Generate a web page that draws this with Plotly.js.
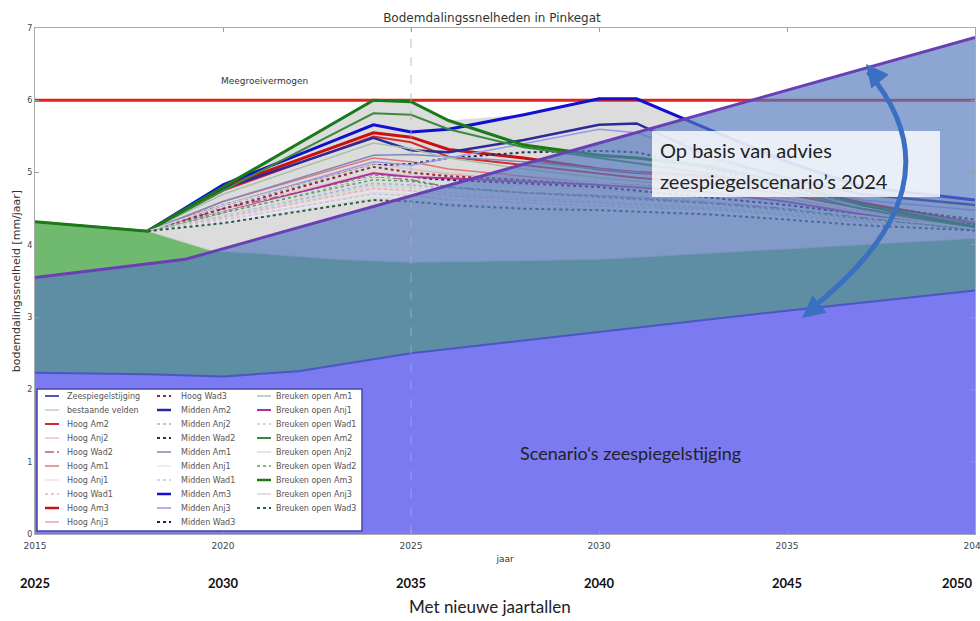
<!DOCTYPE html>
<html><head><meta charset="utf-8">
<script src="https://cdn.plot.ly/plotly-3.0.1.min.js"></script>
<style>html,body{margin:0;padding:0;background:#fff}#chart{width:980px;height:621px}</style>
</head><body><div id="chart"></div>
<script>
// ---------------- DATA ----------------
const YEARS = [2015, 2018, 2020, 2024, 2025, 2026, 2028, 2030, 2031, 2033, 2035, 2037, 2040];
const X_TICKS = [2015, 2020, 2025, 2030, 2035, 2040];
const NEW_YEAR_LABELS = ['2025', '2030', '2035', '2040', '2045', '2050'];
const Y_TICKS = [0, 1, 2, 3, 4, 5, 6, 7];
const NOW_YEAR = 2025;

const SEA_YEARS = [2015, 2018, 2020, 2022, 2025, 2030, 2035, 2040];
const SEA_RATE  = [2.23, 2.21, 2.18, 2.25, 2.50, 2.80, 3.09, 3.37];
const EXIST_YEARS = [2015, 2018, 2019.7, 2021, 2023, 2025, 2030, 2035, 2040];
const EXIST_RATE  = [4.32, 4.19, 3.92, 3.88, 3.80, 3.76, 3.80, 3.95, 4.09];
const ADVICE_YEARS = [2015, 2019, 2040];
const ADVICE_RATE  = [3.55, 3.80, 6.87];
const CAPACITY_YEARS = [2015, 2040];
const CAPACITY_RATE  = [6.0, 6.0];

const hoogAm2    = [null, 4.19, 4.75, 5.50, 5.42, 5.22, 5.10, 4.98, 4.93, 4.85, 4.70, 4.50, 4.25];
const hoogAnj2   = [null, 4.19, 4.50, 5.00, 4.97, 4.90, 4.82, 4.76, 4.73, 4.66, 4.55, 4.40, 4.20];
const hoogWad2   = [null, 4.19, 4.50, 4.95, 4.90, 4.80, 4.72, 4.68, 4.65, 4.58, 4.50, 4.38, 4.20];
const hoogAm1    = [null, 4.19, 4.60, 5.20, 5.15, 5.05, 4.95, 4.85, 4.82, 4.75, 4.62, 4.45, 4.22];
const hoogAnj1   = [null, 4.19, 4.35, 4.75, 4.72, 4.66, 4.60, 4.55, 4.53, 4.47, 4.40, 4.30, 4.17];
const hoogWad1   = [null, 4.19, 4.38, 4.78, 4.75, 4.68, 4.62, 4.58, 4.55, 4.50, 4.42, 4.32, 4.18];
const hoogAm3    = [null, 4.19, 4.80, 5.55, 5.49, 5.32, 5.20, 5.05, 5.00, 4.95, 4.82, 4.58, 4.30];
const hoogAnj3   = [null, 4.19, 4.55, 5.12, 5.05, 4.98, 4.90, 4.82, 4.78, 4.70, 4.58, 4.42, 4.20];
const hoogWad3   = [null, 4.19, 4.50, 5.08, 5.00, 4.95, 4.90, 4.85, 4.82, 4.75, 4.62, 4.45, 4.22];
const middenAm2  = [null, 4.19, 4.78, 5.48, 5.31, 5.28, 5.45, 5.66, 5.68, 5.20, 4.92, 4.70, 4.55];
const middenAnj2 = [null, 4.19, 4.40, 4.85, 4.83, 4.78, 4.72, 4.68, 4.66, 4.60, 4.52, 4.40, 4.25];
const middenWad2 = [null, 4.19, 4.55, 5.10, 5.12, 5.20, 5.28, 5.30, 5.28, 5.05, 4.80, 4.55, 4.35];
const middenAm1  = [null, 4.19, 4.60, 5.24, 5.25, 5.22, 5.15, 5.05, 5.00, 4.92, 4.75, 4.55, 4.30];
const middenAnj1 = [null, 4.19, 4.32, 4.68, 4.66, 4.60, 4.56, 4.52, 4.50, 4.45, 4.38, 4.30, 4.18];
const middenWad1 = [null, 4.19, 4.35, 4.70, 4.68, 4.62, 4.58, 4.55, 4.53, 4.48, 4.40, 4.30, 4.18];
const middenAm3  = [null, 4.19, 4.83, 5.66, 5.56, 5.60, 5.80, 6.02, 6.02, 5.58, 5.15, 4.80, 4.62];
const middenAnj3 = [null, 4.19, 4.55, 5.15, 5.10, 5.20, 5.40, 5.60, 5.55, 5.20, 4.88, 4.62, 4.48];
const middenWad3 = [null, 4.19, 4.45, 4.95, 4.92, 4.90, 4.85, 4.80, 4.75, 4.65, 4.55, 4.42, 4.28];
const breukAm1   = [null, 4.19, 4.70, 5.41, 5.33, 5.20, 5.05, 4.93, 4.88, 4.80, 4.65, 4.45, 4.22];
const breukAnj1  = [null, 4.19, 4.45, 4.99, 4.94, 4.92, 4.88, 4.83, 4.80, 4.72, 4.60, 4.42, 4.20];
const breukWad1  = [null, 4.19, 4.40, 4.82, 4.80, 4.72, 4.65, 4.60, 4.58, 4.52, 4.45, 4.35, 4.20];
const breukAm2   = [4.32, 4.19, 4.75, 5.82, 5.80, 5.60, 5.35, 5.20, 5.13, 4.98, 4.75, 4.50, 4.22];
const breukAnj2  = [null, 4.19, 4.45, 4.95, 4.92, 4.86, 4.78, 4.72, 4.70, 4.62, 4.52, 4.40, 4.22];
const breukWad2  = [null, 4.19, 4.45, 4.90, 4.88, 4.80, 4.72, 4.66, 4.63, 4.57, 4.48, 4.36, 4.22];
const breukAm3   = [4.32, 4.19, 4.80, 6.00, 5.98, 5.72, 5.38, 5.24, 5.20, 5.08, 4.85, 4.55, 4.25];
const breukAnj3  = [null, 4.19, 4.55, 5.10, 5.05, 5.00, 4.92, 4.85, 4.82, 4.75, 4.62, 4.45, 4.22];
const breukWad3  = [null, 4.19, 4.30, 4.62, 4.60, 4.55, 4.50, 4.48, 4.46, 4.42, 4.35, 4.27, 4.20];

const SERIES_NAMES = ['Hoog Am2','Hoog Anj2','Hoog Wad2','Hoog Am1','Hoog Anj1','Hoog Wad1','Hoog Am3','Hoog Anj3',
  'Hoog Wad3','Midden Am2','Midden Anj2','Midden Wad2','Midden Am1','Midden Anj1','Midden Wad1','Midden Am3',
  'Midden Anj3','Midden Wad3','Breuken open Am1','Breuken open Anj1','Breuken open Wad1','Breuken open Am2',
  'Breuken open Anj2','Breuken open Wad2','Breuken open Am3','Breuken open Anj3','Breuken open Wad3'];
const SERIES = [hoogAm2, hoogAnj2, hoogWad2, hoogAm1, hoogAnj1, hoogWad1, hoogAm3, hoogAnj3, hoogWad3,
  middenAm2, middenAnj2, middenWad2, middenAm1, middenAnj1, middenWad1, middenAm3, middenAnj3, middenWad3,
  breukAm1, breukAnj1, breukWad1, breukAm2, breukAnj2, breukWad2, breukAm3, breukAnj3, breukWad3];

// ---------------- STYLES ----------------
const SERIES_COLORS = ['#d42a2a','#e6c4cc','#b05a9a','#e07878','#f0e2e2','#f0a8c0','#cc1010','#e8a8a8','#8a2a3a',
  '#2a2a9a','#a8a8ee','#2a2a5a','#8088b8','#e6e6f6','#c4c4e4','#1010d0','#9898e8','#1a1a6a',
  '#a8c0a8','#b0309a','#b8d8c8','#3a8a3a','#d0e4d0','#5aa05a','#1a7a1a','#d4d4d4','#2a5a3a'];
const SERIES_WIDTHS = [2,1.5,1.5,1.5,1.5,1.5,3,1.5,2, 2.5,1.5,2,1.5,1.5,1.5,3,1.5,2, 1.5,2,1.5,2,1.5,1.5,3,1.5,2];
const SERIES_DASH = ['solid','solid','dashdot','solid','solid','dot','solid','solid','dot',
  'solid','dot','dot','solid','solid','dot','solid','solid','dot',
  'solid','solid','dot','solid','solid','dot','solid','solid','dot'];
const SEA_STYLE = {color:'#4b56c6', width:2, dash:'solid'};
const EXIST_STYLE = {color:'#c8c8c8', width:1.5, dash:'solid'};

const px = v => (v - 35) / 940;
const py = v => (534 - v) / 506;

// ---------------- TRACES ----------------
const traces = [];
traces.push({x: SEA_YEARS, y: SEA_RATE, mode: 'lines', line: {width: 0, color: 'rgba(0,0,0,0)'}, hoverinfo: 'skip'});
traces.push({x: EXIST_YEARS, y: EXIST_RATE, mode: 'lines', name: 'bestaande velden',
  line: {color: EXIST_STYLE.color, width: 1}, fill: 'tonexty', fillcolor: '#6fba6f'});
const maxEnv = YEARS.map((_, i) => Math.max(...SERIES.map(s => s[i]).filter(v => v != null)));
traces.push({x: YEARS, y: maxEnv, mode: 'lines', line: {width: 0, color: 'rgba(0,0,0,0)'},
  fill: 'tonexty', fillcolor: '#dcdcdc', hoverinfo: 'skip'});
traces.push({x: CAPACITY_YEARS, y: CAPACITY_RATE, mode: 'lines', name: 'Meegroeivermogen',
  line: {color: '#e3201b', width: 3}});
SERIES.forEach((s, i) => traces.push({x: YEARS, y: s, mode: 'lines', name: SERIES_NAMES[i],
  line: {color: SERIES_COLORS[i], width: SERIES_WIDTHS[i], dash: SERIES_DASH[i]}}));
traces.push({x: SEA_YEARS, y: SEA_RATE, mode: 'lines', line: {width: 0, color: 'rgba(0,0,0,0)'}, hoverinfo: 'skip'});
traces.push({x: ADVICE_YEARS, y: ADVICE_RATE, mode: 'lines', name: 'advies 2024',
  line: {color: '#6a3fb5', width: 3}, fill: 'tonexty', fillcolor: 'rgba(85,121,190,0.67)'});
traces.push({x: SEA_YEARS, y: SEA_RATE, mode: 'lines', name: 'Zeespiegelstijging',
  line: {color: SEA_STYLE.color, width: SEA_STYLE.width}, fill: 'tozeroy', fillcolor: '#7b7af0'});

// ---------------- SHAPES / ANNOTATIONS ----------------
const shapes = [];
const annotations = [];

shapes.push({type: 'line', xref: 'x', yref: 'paper', x0: NOW_YEAR, x1: NOW_YEAR, y0: 0, y1: 1,
  line: {color: 'rgba(165,175,210,0.8)', width: 1, dash: 'dash'}, layer: 'above'});

// text box
shapes.push({type: 'rect', xref: 'paper', yref: 'paper', x0: px(652), x1: px(940), y0: py(197), y1: py(131),
  fillcolor: 'rgba(255,255,255,0.82)', line: {width: 0}, layer: 'above'});

// curved arrow
shapes.push({type: 'path', xref: 'paper', yref: 'paper', layer: 'above',
  path: `M ${px(868)} ${py(72)} Q ${px(967)} ${py(188)} ${px(807)} ${py(312)}`,
  line: {color: '#3b6fc2', width: 5}});
annotations.push({xref: 'paper', yref: 'paper', x: px(866), y: py(64), ax: 12, ay: 15, text: '',
  showarrow: true, arrowhead: 2, arrowsize: 0.9, arrowwidth: 5, arrowcolor: '#3b6fc2'});
annotations.push({xref: 'paper', yref: 'paper', x: px(802), y: py(318), ax: 15, ay: -12, text: '',
  showarrow: true, arrowhead: 2, arrowsize: 0.9, arrowwidth: 5, arrowcolor: '#3b6fc2'});

// legend box
shapes.push({type: 'rect', xref: 'paper', yref: 'paper', x0: px(37), x1: px(362), y0: py(531), y1: py(389),
  fillcolor: '#ffffff', line: {color: '#4545a8', width: 1.5}, layer: 'above'});
const LEGEND_NAMES = ['Zeespiegelstijging', 'bestaande velden'].concat(SERIES_NAMES);
const LEGEND_STYLES = [SEA_STYLE, EXIST_STYLE].concat(SERIES_NAMES.map((_, i) =>
  ({color: SERIES_COLORS[i], width: Math.min(SERIES_WIDTHS[i], 2.5), dash: SERIES_DASH[i]})));
const COL_LINE_X = [45, 157, 257], COL_TEXT_X = [65, 179, 274];
LEGEND_NAMES.forEach((name, k) => {
  const col = Math.floor(k / 10), row = k % 10;
  const yy = 396 + 14 * row;
  const st = LEGEND_STYLES[k];
  shapes.push({type: 'line', xref: 'paper', yref: 'paper', x0: px(COL_LINE_X[col]), x1: px(COL_LINE_X[col] + 14),
    y0: py(yy), y1: py(yy), line: {color: st.color, width: st.width, dash: st.dash}, layer: 'above'});
  annotations.push({xref: 'paper', yref: 'paper', x: px(COL_TEXT_X[col]), y: py(yy), xanchor: 'left', yanchor: 'middle',
    text: name, showarrow: false, font: {family: 'DejaVu Sans, sans-serif', size: 8, color: '#555'}});
});

annotations.push({xref: 'x', yref: 'y', x: 2021.1, y: 6.27, text: 'Meegroeivermogen', showarrow: false,
  font: {family: 'DejaVu Sans, sans-serif', size: 9, color: '#333'}});
annotations.push({xref: 'paper', yref: 'paper', x: px(658), y: py(150), xanchor: 'left', yanchor: 'middle',
  text: 'Op basis van advies', showarrow: false, font: {family: 'Lato, sans-serif', size: 20, color: '#222'}});
annotations.push({xref: 'paper', yref: 'paper', x: px(658), y: py(181), xanchor: 'left', yanchor: 'middle',
  text: 'zeespiegelscenario’s 2024', showarrow: false, font: {family: 'Lato, sans-serif', size: 20, color: '#222'}});
annotations.push({xref: 'paper', yref: 'paper', x: px(630), y: py(453), xanchor: 'center', yanchor: 'middle',
  text: 'Scenario‘s zeespiegelstijging', showarrow: false, font: {family: 'Lato, sans-serif', size: 18, color: '#222'}});
NEW_YEAR_LABELS.forEach((lab, i) => {
  const last = i === NEW_YEAR_LABELS.length - 1;
  annotations.push({xref: 'x', yref: 'paper', x: X_TICKS[i], y: py(583), xanchor: last ? 'right' : 'center',
    yanchor: 'middle', text: '<b>' + lab + '</b>', showarrow: false,
    font: {family: 'Lato, sans-serif', size: 13, color: '#111'}});
});
annotations.push({xref: 'paper', yref: 'paper', x: px(490), y: py(606), xanchor: 'center', yanchor: 'middle',
  text: 'Met nieuwe jaartallen', showarrow: false, font: {family: 'Lato, sans-serif', size: 17, color: '#222'}});

const layout = {
  width: 980, height: 621,
  margin: {l: 35, r: 5, t: 28, b: 87},
  paper_bgcolor: '#ffffff', plot_bgcolor: '#ffffff',
  showlegend: false,
  font: {family: 'DejaVu Sans, sans-serif', size: 9, color: '#444'},
  title: {text: 'Bodemdalingssnelheden in Pinkegat', x: 0.502, xanchor: 'center', xref: 'container',
    y: 1 - 18 / 621, yanchor: 'middle', font: {family: 'DejaVu Sans, sans-serif', size: 12, color: '#333'}},
  xaxis: {range: [2015, 2040], tickvals: X_TICKS, ticktext: X_TICKS.map(String), ticks: 'inside', ticklen: 4,
    tickcolor: '#999', showline: true, mirror: 'ticks', linecolor: '#aaa', linewidth: 1, showgrid: false,
    zeroline: false, tickfont: {size: 9, color: '#444'}, ticklabeloverflow: 'allow', ticklabelstandoff: 3,
    title: {text: 'jaar', font: {size: 9, color: '#333'}, standoff: 5}},
  yaxis: {range: [0, 7], tickvals: Y_TICKS, ticks: 'inside', ticklen: 4, tickcolor: '#999', showline: true,
    mirror: 'ticks', linecolor: '#aaa', linewidth: 1, showgrid: false, zeroline: false,
    tickfont: {size: 8, color: '#444'},
    title: {text: 'bodemdalingssnelheid [mm/jaar]', font: {size: 11, color: '#333'}, standoff: 4}},
  shapes: shapes,
  annotations: annotations
};

Plotly.newPlot('chart', traces, layout, {staticPlot: true, displayModeBar: false});
</script></body></html>
